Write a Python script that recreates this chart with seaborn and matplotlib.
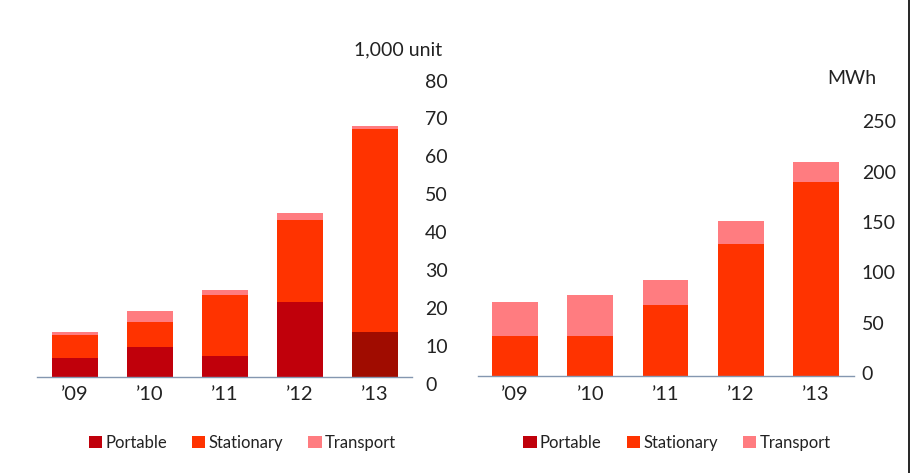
import numpy as np
import pandas as pd
import matplotlib
matplotlib.use("Agg")
import matplotlib.pyplot as plt
import matplotlib.transforms as mtransforms
from matplotlib.patches import Patch
from matplotlib.lines import Line2D
import seaborn as sns

# data
years = ["\u201909", "\u201910", "\u201911", "\u201912", "\u201913"]

units_portable = [4.9, 7.9, 5.5, 19.8, 11.8]
units_stationary = [6.0, 6.5, 16.0, 21.5, 53.5]
units_transport = [0.9, 2.9, 1.4, 1.9, 0.8]

mwh_portable = [0, 0, 0, 0, 0]
mwh_stationary = [39.6, 39.6, 70.3, 131.1, 192.2]
mwh_transport = [33.7, 40.6, 24.8, 22.5, 19.8]

left_ticks = [0, 10, 20, 30, 40, 50, 60, 70, 80]
right_ticks = [0, 50, 100, 150, 200, 250]
legend_labels = ["Portable", "Stationary", "Transport"]

c_portable = "#c0000b"
c_portable_13 = "#a00c00"
c_stationary = "#ff3300"
c_transport = "#ff7c80"
axis_color = "#8497b0"

sns.set_theme(style="white")
plt.rcParams["font.family"] = ["Lato", "DejaVu Sans"]

fig = plt.figure(figsize=(9.12, 4.73), dpi=100)
ax1 = fig.add_axes([0.041, 0.2036, 0.411, 0.641])
ax2 = fig.add_axes([0.5236, 0.205, 0.4123, 0.533])


def stacked(ax, portable, stationary, transport, portable_colors):
    df = pd.DataFrame({"year": years, "p": portable, "s": stationary, "t": transport})
    df["ps"] = df["p"] + df["s"]
    df["pst"] = df["ps"] + df["t"]
    # draw cumulative layers, tallest first
    sns.barplot(data=df, x="year", y="pst", color=c_transport, width=0.61,
                saturation=1, ax=ax)
    sns.barplot(data=df, x="year", y="ps", color=c_stationary, width=0.61,
                saturation=1, ax=ax)
    sns.barplot(data=df, x="year", y="p", hue="year", palette=portable_colors,
                width=0.61, saturation=1, legend=False, ax=ax)
    for p in ax.patches:
        p.set_edgecolor("none")
        p.set_linewidth(0)


stacked(ax1, units_portable, units_stationary, units_transport,
        [c_portable] * 4 + [c_portable_13])
stacked(ax2, mwh_portable, mwh_stationary, mwh_transport, [c_portable] * 5)

for ax, ticks, ytop, pad, shift in [(ax1, left_ticks, 80, 9.4, -7),
                                     (ax2, right_ticks, 250, 6, 2.7)]:
    ax.set_xlim(-0.5, 4.5)
    ax.set_ylim(0, ytop)
    ax.set_yticks(ticks)
    ax.yaxis.tick_right()
    ax.tick_params(axis="y", length=0, pad=pad, labelsize=14, colors="#222222")
    ax.tick_params(axis="x", length=0, pad=7, labelsize=14.5, colors="#222222")
    ax.set_xlabel("")
    ax.set_ylabel("")
    for side in ["top", "left", "right"]:
        ax.spines[side].set_visible(False)
    ax.spines["bottom"].set_color(axis_color)
    ax.spines["bottom"].set_linewidth(1)
    offset = mtransforms.ScaledTranslation(0, shift / 100, fig.dpi_scale_trans)
    for lab in ax.get_yticklabels():
        lab.set_transform(lab.get_transform() + offset)
        lab.set_horizontalalignment("left")

fig.text(398 / 912, 1 - 50 / 473, "1,000 unit", ha="center", va="center",
         fontsize=14, color="#222222")
fig.text(852 / 912, 1 - 78 / 473, "MWh", ha="center", va="center",
         fontsize=14, color="#222222")

handles = [Patch(facecolor=c, edgecolor="none") for c in
           [c_portable, c_stationary, c_transport]]
for cx in [242.5 / 912, 677 / 912]:
    fig.legend(handles, legend_labels, loc="center", bbox_to_anchor=(cx, 0.064),
               ncol=3, frameon=False, fontsize=12, handlelength=0.8,
               handleheight=0.8, handletextpad=0.2, columnspacing=1.5,
               labelcolor="#222222")

fig.add_artist(Line2D([909 / 912, 909 / 912], [0, 1], color="black", lw=1.2))

fig.savefig("out.png", dpi=100)
